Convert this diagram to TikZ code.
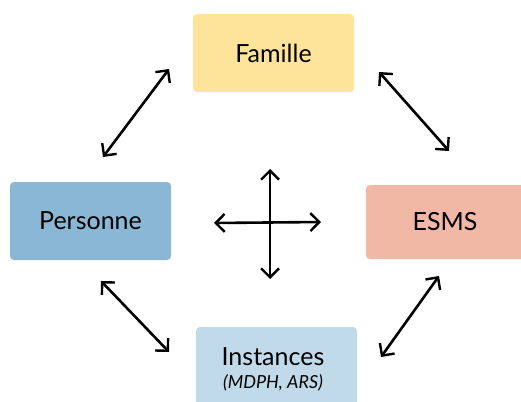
\documentclass[tikz,border=0pt]{standalone}
\usepackage{fontspec}
\setmainfont{Lato}
\usetikzlibrary{arrows.meta}
\definecolor{famc}{HTML}{FDE49A}
\definecolor{perc}{HTML}{8AB8D4}
\definecolor{esmc}{HTML}{F2B8A6}
\definecolor{insc}{HTML}{C0DAEA}
\tikzset{
  arr/.style={line width=2.6pt, line cap=round, {Straight Barb[length=9pt,width=18pt,line width=2.4pt]}-{Straight Barb[length=9pt,width=18pt,line width=2.4pt]}},
  lbl/.style={font=\fontsize{25}{28}\selectfont},
}
\begin{document}
\begin{tikzpicture}[x=1pt,y=-1pt]
\useasboundingbox (0,0) rectangle (521,401);
% boxes
\fill[famc, rounded corners=4pt] (193,14) rectangle (354,92);
\fill[perc, rounded corners=4pt] (10,182) rectangle (171,260);
\fill[esmc, rounded corners=4pt] (366,185) rectangle (530,259);
\fill[insc, rounded corners=4pt] (196,327) rectangle (357,410);
\node[lbl] (fam) at (273.5,53) {Famille};
\node[lbl] (per) at (90.5,221) {Personne};
\node[lbl] (esm) at (445,222) {ESMS};
\node[lbl] (ins) at (273,357) {Instances};
\node[font=\itshape\fontsize{18}{20}\selectfont] (insb) at (273,383) {(MDPH, ARS)};
% arrow ends
\coordinate (a1) at (103,157);
\coordinate (a2) at (169,69);
\coordinate (b1) at (379,72);
\coordinate (b2) at (449,151);
\coordinate (c1) at (101,281);
\coordinate (c2) at (169,352);
\coordinate (d1) at (439,276);
\coordinate (d2) at (381,357);
\coordinate (v1) at (270,169);
\coordinate (v2) at (270,279);
\coordinate (h1) at (214,223);
\coordinate (h2) at (321,222);
\draw[arr] (a1) -- (a2);
\draw[arr] (b1) -- (b2);
\draw[arr] (c1) -- (c2);
\draw[arr] (d1) -- (d2);
\draw[arr] (v1) -- (v2);
\draw[arr] (h1) -- (h2);
\end{tikzpicture}
\end{document}
